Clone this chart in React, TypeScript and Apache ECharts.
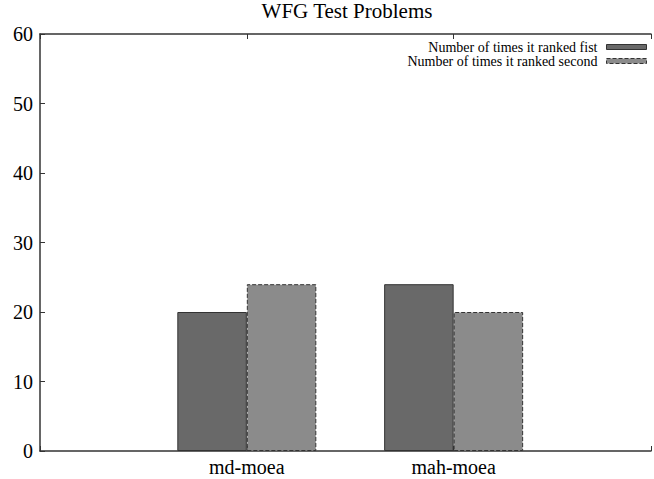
import React, { useEffect, useRef } from "react";
import * as echarts from "echarts";

const categories = ["md-moea", "mah-moea"];
const seriesNames = ["Number of times it ranked fist", "Number of times it ranked second"];
const rankedFirst = [20, 24];
const rankedSecond = [24, 20];
const yTicks = { min: 0, max: 60, interval: 10 };
const title = "WFG Test Problems";

const FONT = "'Liberation Serif', 'DejaVu Serif', serif";
const AXIS = "#333";
const DARK = "#696969";
const LIGHT = "#8b8b8b";

export default function App() {
  const ref = useRef<HTMLDivElement>(null);
  useEffect(() => {
    if (!ref.current) return;
    const chart = echarts.init(ref.current, null, { renderer: "svg" });
    const xMin = -1;
    const xMax = 613 / 207.5 - 1;
    const labelFor = (v: number) => {
      const i = Math.round(v);
      if (Math.abs(v - i) > 1e-6) return "";
      return categories[i] ?? "";
    };
    const baseX = {
      type: "value",
      min: xMin,
      max: xMax,
      interval: 1,
      splitLine: { show: false },
      axisLine: { show: true, onZero: false, lineStyle: { color: AXIS, width: 1.5 } },
      axisTick: { show: true, inside: true, length: 5, lineStyle: { color: AXIS, width: 1 } },
    };
    const legendBase = {
      right: 7,
      padding: 0,
      align: "right",
      icon: "rect",
      itemWidth: 40,
      itemHeight: 5,
      selectedMode: false,
      textStyle: { fontFamily: FONT, fontSize: 14, lineHeight: 12, color: "#000", padding: [0, 4, 0, 0] },
    };
    chart.setOption({
      animation: false,
      backgroundColor: "#fff",
      title: {
        text: title,
        left: 347,
        top: 0,
        padding: 0,
        textAlign: "center",
        textStyle: { fontFamily: FONT, fontSize: 21, lineHeight: 21, fontWeight: "normal", color: "#000" },
      },
      legend: [
        {
          ...legendBase,
          data: [seriesNames[0]],
          top: 40,
          itemStyle: { color: DARK, borderColor: AXIS, borderWidth: 1, borderType: "solid" },
        },
        {
          ...legendBase,
          data: [seriesNames[1]],
          top: 54,
          itemStyle: { color: LIGHT, borderColor: AXIS, borderWidth: 1, borderType: "dashed" },
        },
      ],
      grid: { left: 40, top: 34, right: 1, bottom: 28, containLabel: false },
      xAxis: [
        {
          ...baseX,
          position: "bottom",
          axisLabel: {
            formatter: labelFor,
            fontFamily: FONT,
            fontSize: 20,
            color: "#000",
            margin: 6,
            showMinLabel: true,
            showMaxLabel: true,
          },
        },
        {
          ...baseX,
          position: "top",
          axisLabel: { show: false },
        },
      ],
      yAxis: {
        type: "value",
        min: yTicks.min,
        max: yTicks.max,
        interval: yTicks.interval,
        splitLine: { show: false },
        axisLine: { show: true, onZero: false, lineStyle: { color: AXIS, width: 1.5 } },
        axisTick: { show: true, inside: true, length: 5, lineStyle: { color: AXIS, width: 1 } },
        axisLabel: { fontFamily: FONT, fontSize: 20, color: "#000", margin: 7 },
      },
      series: [
        {
          name: seriesNames[0],
          type: "bar",
          xAxisIndex: 0,
          barWidth: 69.5,
          barGap: "0%",
          data: rankedFirst.map((v, i) => [i, v]),
          itemStyle: { color: DARK, borderColor: AXIS, borderWidth: 1, borderType: "solid" },
        },
        {
          name: seriesNames[1],
          type: "bar",
          xAxisIndex: 0,
          barWidth: 69.5,
          barGap: "0%",
          data: rankedSecond.map((v, i) => [i, v]),
          itemStyle: { color: LIGHT, borderColor: AXIS, borderWidth: 1, borderType: "dashed" },
        },
      ],
    });
    return () => chart.dispose();
  }, []);
  return (
    <div
      ref={ref}
      style={{ position: "fixed", left: 0, top: 0, width: 654, height: 479, background: "#fff" }}
    />
  );
}
